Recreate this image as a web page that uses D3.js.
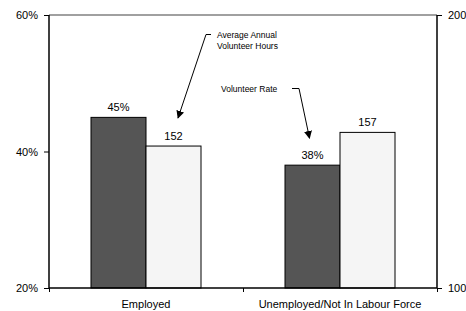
<!DOCTYPE html>
<html><head><meta charset="utf-8">
<script src="https://cdn.jsdelivr.net/npm/d3@7"></script>
<style>body{margin:0;background:#fff}svg{display:block;font-family:"Liberation Sans",Arial,sans-serif}</style>
</head><body><svg id="c" width="466" height="311"></svg>
<script>
const categories = ["Employed", "Unemployed/Not In Labour Force"];
const volunteerRate = [45, 38];          // percent, left axis
const volunteerHours = [152, 157];       // hours, right axis
const leftTicks = [20, 40, 60];
const rightTicks = [100, 200];

const svg = d3.select("#c");
const L = 49, R = 437, T = 15, B = 288;

const x = d3.scaleBand().domain(categories).range([L, R]);
const yL = d3.scaleLinear().domain([20, 60]).range([B, T]);
const yR = d3.scaleLinear().domain([100, 200]).range([B, T]);
const barW = 55;

// top gridline
svg.append("line").attr("x1", L).attr("x2", R).attr("y1", yL(60)).attr("y2", yL(60))
  .attr("stroke", "#808080").attr("stroke-width", 1.5);

// bars
const g = svg.append("g");
categories.forEach((c, i) => {
  const cx = x(c) + x.bandwidth() / 2;
  g.append("rect").attr("x", cx - barW).attr("width", barW)
    .attr("y", yL(volunteerRate[i])).attr("height", B - yL(volunteerRate[i]))
    .attr("fill", "#555555").attr("stroke", "#000").attr("stroke-width", 1);
  g.append("rect").attr("x", cx).attr("width", barW)
    .attr("y", yR(volunteerHours[i])).attr("height", B - yR(volunteerHours[i]))
    .attr("fill", "#f5f5f5").attr("stroke", "#000").attr("stroke-width", 1);
  g.append("text").attr("x", cx - barW / 2).attr("y", yL(volunteerRate[i]) - 6)
    .attr("text-anchor", "middle").attr("font-size", 11).text(volunteerRate[i] + "%");
  g.append("text").attr("x", cx + barW / 2).attr("y", yR(volunteerHours[i]) - 6)
    .attr("text-anchor", "middle").attr("font-size", 11).text(volunteerHours[i]);
});

// axes
const leftAxis = d3.axisLeft(yL).tickValues(leftTicks).tickFormat(d => d + "%").tickSize(5).tickPadding(6);
const la = svg.append("g").attr("transform", `translate(${L},0)`).call(leftAxis);
const rightAxis = d3.axisRight(yR).tickValues(rightTicks).tickSize(5).tickPadding(6);
const ra = svg.append("g").attr("transform", `translate(${R},0)`).call(rightAxis);
const bottomAxis = d3.axisBottom(d3.scaleLinear().domain([0, 2]).range([L, R]))
  .tickValues([0, 1, 2]).tickFormat("").tickSize(4);
const ba = svg.append("g").attr("transform", `translate(0,${B})`).call(bottomAxis);
[la, ra, ba].forEach(a => {
  a.select(".domain").attr("stroke", "#000").attr("stroke-width", 1.5);
  a.selectAll(".tick line").attr("stroke", "#000");
  a.selectAll("text").attr("font-size", 11).attr("fill", "#000")
    .attr("font-family", '"Liberation Sans",Arial,sans-serif');
});
la.select(".domain").attr("d", `M0,${B}V${T}`);
ra.select(".domain").attr("d", `M0,${B}V${T}`);
ba.select(".domain").attr("d", `M${L},0H${R}`);

// category labels
categories.forEach(c => {
  svg.append("text").attr("x", x(c) + x.bandwidth() / 2).attr("y", 308)
    .attr("text-anchor", "middle").attr("font-size", 11).text(c);
});

// annotations
const defs = svg.append("defs");
defs.append("marker").attr("id", "ah").attr("viewBox", "0 0 10 10").attr("refX", 9).attr("refY", 5)
  .attr("markerWidth", 8).attr("markerHeight", 8).attr("markerUnits", "userSpaceOnUse").attr("orient", "auto")
  .append("path").attr("d", "M0,0L10,5L0,10z").attr("fill", "#000");

const hoursTip = [x(categories[0]) + x.bandwidth() / 2 + 32, yR(volunteerHours[0]) - 28];
const rateTip = [x(categories[1]) + x.bandwidth() / 2 - barW / 2 - 3, yL(volunteerRate[1]) - 27];

svg.append("path").attr("d", `M211,34.5H206L${hoursTip[0]},${hoursTip[1]}`)
  .attr("fill", "none").attr("stroke", "#000").attr("stroke-width", 1).attr("marker-end", "url(#ah)");
svg.append("text").attr("x", 217).attr("y", 38).attr("font-size", 8.5).text("Average Annual");
svg.append("text").attr("x", 217).attr("y", 49).attr("font-size", 8.5).text("Volunteer Hours");

svg.append("path").attr("d", `M292,88.5H299L${rateTip[0]},${rateTip[1]}`)
  .attr("fill", "none").attr("stroke", "#000").attr("stroke-width", 1).attr("marker-end", "url(#ah)");
svg.append("text").attr("x", 221).attr("y", 92).attr("font-size", 8.5).text("Volunteer Rate");
</script></body></html>
